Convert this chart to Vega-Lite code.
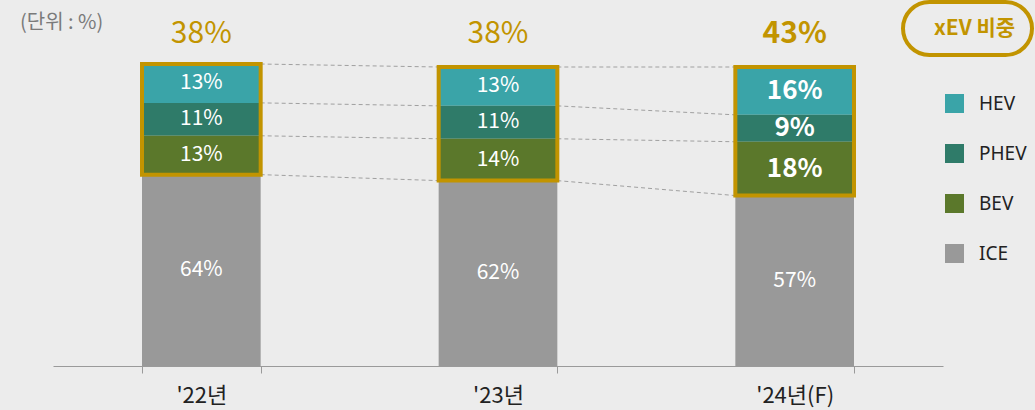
{
  "$schema": "https://vega.github.io/schema/vega-lite/v6.json",
  "width": 890,
  "height": 299,
  "autosize": {"type": "none"},
  "padding": {"left": 53, "top": 67, "right": 92, "bottom": 44},
  "background": "#ececec",
  "config": {"view": {"stroke": null}, "font": "Noto Sans CJK KR", "legend": {"strokeWidth": 4}},
  "title": {"text": "(단위 : %)", "anchor": "start", "frame": "group", "dx": -33, "dy": 67, "offset": 34, "fontSize": 20, "fontWeight": "normal", "color": "#7a7a7a", "font": "Noto Sans CJK KR"},
  "datasets": {
    "share": [
      {"year": "'22년", "type": "HEV", "value": 13},
      {"year": "'22년", "type": "PHEV", "value": 11},
      {"year": "'22년", "type": "BEV", "value": 13},
      {"year": "'22년", "type": "ICE", "value": 64},
      {"year": "'23년", "type": "HEV", "value": 13},
      {"year": "'23년", "type": "PHEV", "value": 11},
      {"year": "'23년", "type": "BEV", "value": 14},
      {"year": "'23년", "type": "ICE", "value": 62},
      {"year": "'24년(F)", "type": "HEV", "value": 16},
      {"year": "'24년(F)", "type": "PHEV", "value": 9},
      {"year": "'24년(F)", "type": "BEV", "value": 18},
      {"year": "'24년(F)", "type": "ICE", "value": 57}
    ],
    "xev": [
      {"year": "'22년", "total": "38%"},
      {"year": "'23년", "total": "38%"},
      {"year": "'24년(F)", "total": "43%"}
    ]
  },
  "data": {"name": "share"},
  "encoding": {
    "x": {
      "field": "year", "type": "nominal",
      "scale": {"domain": ["'22년", "'23년", "'24년(F)"], "paddingInner": 0.6, "paddingOuter": 0.3},
      "axis": {"title": null, "tickBand": "extent", "domainColor": "#9a9a9a", "tickColor": "#9a9a9a", "tickSize": 7, "labelFontSize": 22, "labelColor": "#222222", "labelPadding": 12, "labelAngle": 0, "labelFont": "Noto Sans CJK KR"}
    }
  },
  "layer": [
    {
      "transform": [
        {"calculate": "indexof(['ICE','BEV','PHEV','HEV'], datum.type)", "as": "o"},
        {"stack": "value", "groupby": ["year"], "sort": [{"field": "o", "order": "ascending"}], "as": ["y0", "y1"]}
      ],
      "mark": {"type": "bar"},
      "encoding": {
        "y": {"field": "y0", "type": "quantitative", "scale": {"domain": [0, 100], "nice": false}, "axis": null},
        "y2": {"field": "y1"},
        "color": {
          "field": "type", "type": "nominal",
          "scale": {"domain": ["HEV", "PHEV", "BEV", "ICE"], "range": ["#3aa4a8", "#2f7b69", "#5b782b", "#999999"]},
          "legend": {"orient": "none", "legendX": 892, "legendY": 27, "title": null, "padding": 0, "symbolType": "square", "symbolSize": 361, "symbolStrokeWidth": 0, "rowPadding": 30, "labelFontSize": 19, "labelColor": "#222222", "labelFont": "Noto Sans", "labelOffset": 15}
        }
      }
    },
    {
      "transform": [
        {"calculate": "indexof(['ICE','BEV','PHEV','HEV'], datum.type)", "as": "o"},
        {"stack": "value", "groupby": ["year"], "sort": [{"field": "o", "order": "ascending"}], "as": ["y0", "y1"]},
        {"window": [{"op": "lead", "field": "y1", "as": "y1n"}, {"op": "lead", "field": "year", "as": "yearn"}], "groupby": ["type"], "sort": [{"field": "year", "order": "ascending"}]},
        {"filter": "datum.yearn != null"}
      ],
      "mark": {"type": "rule", "color": "#a0a0a0", "strokeWidth": 1, "strokeDash": [4, 3]},
      "encoding": {
        "x": {"field": "year", "type": "nominal", "bandPosition": 1},
        "x2": {"field": "yearn", "bandPosition": 0},
        "y": {"field": "y1", "type": "quantitative", "scale": {"domain": [0, 100], "nice": false}, "axis": null},
        "y2": {"field": "y1n"}
      }
    },
    {
      "transform": [
        {"calculate": "indexof(['ICE','BEV','PHEV','HEV'], datum.type)", "as": "o"},
        {"stack": "value", "groupby": ["year"], "sort": [{"field": "o", "order": "ascending"}], "as": ["y0", "y1"]},
        {"filter": "datum.type != 'ICE'"},
        {"aggregate": [{"op": "min", "field": "y0", "as": "lo"}, {"op": "max", "field": "y1", "as": "hi"}], "groupby": ["year"]}
      ],
      "mark": {"type": "bar", "filled": false, "strokeWidth": 4},
      "encoding": {
        "y": {"field": "lo", "type": "quantitative", "scale": {"domain": [0, 100], "nice": false}, "axis": null},
        "y2": {"field": "hi"},
        "stroke": {
          "datum": "xEV 비중", "type": "nominal",
          "scale": {"range": ["#c29400"]},
          "legend": {"orient": "none", "legendX": 850, "legendY": -65, "title": null, "padding": 16, "strokeColor": "#c29400", "cornerRadius": 27, "symbolOpacity": 0, "symbolSize": 1, "labelOffset": -6, "labelFontSize": 21, "labelFontWeight": "bold", "labelColor": "#c29400", "labelFont": "Noto Sans CJK KR", "encode": {"legend": {"update": {"strokeWidth": {"value": 4}}}}}
        }
      }
    },
    {
      "transform": [
        {"calculate": "indexof(['ICE','BEV','PHEV','HEV'], datum.type)", "as": "o"},
        {"stack": "value", "groupby": ["year"], "sort": [{"field": "o", "order": "ascending"}], "as": ["y0", "y1"]},
        {"calculate": "(datum.y0 + datum.y1) / 2", "as": "ymid"},
        {"calculate": "datum.value + '%'", "as": "label"},
        {"filter": "datum.year != \"'24년(F)\" || datum.type == 'ICE'"}
      ],
      "mark": {"type": "text", "color": "#ffffff", "fontSize": 21, "baseline": "middle", "align": "center"},
      "encoding": {
        "y": {"field": "ymid", "type": "quantitative", "scale": {"domain": [0, 100], "nice": false}, "axis": null},
        "text": {"field": "label"}
      }
    },
    {
      "transform": [
        {"calculate": "indexof(['ICE','BEV','PHEV','HEV'], datum.type)", "as": "o"},
        {"stack": "value", "groupby": ["year"], "sort": [{"field": "o", "order": "ascending"}], "as": ["y0", "y1"]},
        {"calculate": "(datum.y0 + datum.y1) / 2", "as": "ymid"},
        {"calculate": "datum.value + '%'", "as": "label"},
        {"filter": "datum.year == \"'24년(F)\" && datum.type != 'ICE'"}
      ],
      "mark": {"type": "text", "color": "#ffffff", "fontSize": 26, "fontWeight": "bold", "baseline": "middle", "align": "center"},
      "encoding": {
        "y": {"field": "ymid", "type": "quantitative", "scale": {"domain": [0, 100], "nice": false}, "axis": null},
        "text": {"field": "label"}
      }
    },
    {
      "data": {"name": "xev"},
      "transform": [{"filter": "datum.year != \"'24년(F)\""}],
      "mark": {"type": "text", "color": "#c29400", "fontSize": 30, "baseline": "alphabetic", "align": "center", "dy": -24},
      "encoding": {
        "y": {"datum": 100, "type": "quantitative", "scale": {"domain": [0, 100], "nice": false}, "axis": null},
        "text": {"field": "total"}
      }
    },
    {
      "data": {"name": "xev"},
      "transform": [{"filter": "datum.year == \"'24년(F)\""}],
      "mark": {"type": "text", "color": "#c29400", "fontSize": 30, "fontWeight": "bold", "baseline": "alphabetic", "align": "center", "dy": -24},
      "encoding": {
        "y": {"datum": 100, "type": "quantitative", "scale": {"domain": [0, 100], "nice": false}, "axis": null},
        "text": {"field": "total"}
      }
    }
  ]
}
